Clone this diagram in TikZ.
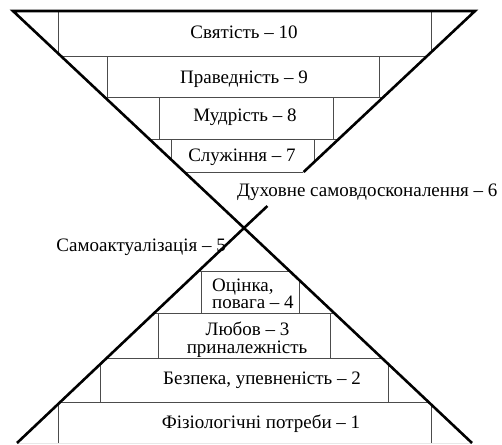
\documentclass[tikz,border=0pt]{standalone}
\usepackage{fontspec}
\setmainfont{Liberation Serif}
\usetikzlibrary{calc}
\begin{document}
\begin{tikzpicture}[x=1pt,y=-1pt,
  thickline/.style={line width=2.6pt, line join=miter},
  thinline/.style={line width=1pt, black!70},
  lbl/.style={font=\fontsize{19}{19}\selectfont, inner sep=0pt, anchor=base}]
\useasboundingbox (0,0) rectangle (502,444);
\coordinate (TL) at (13,11);
\coordinate (TR) at (475,11);
\coordinate (X) at (244,228);
\coordinate (BL) at (17,443);
\coordinate (BR) at (472,443);
\coordinate (RB) at ($(TR)!{(172-11)/217}!(X)$);
\coordinate (RS) at ($(TR)!{(206-11)/217}!(X)$);

% text partly hidden by the row below
\node[lbl] (t3b) at (247,353.5) {приналежність};
\fill[white] (0,357) rectangle (502,444);

% thin frame lines, clipped to the hourglass
\begin{scope}
\clip (TL) -- (TR) -- (X) -- cycle (X) -- (BR) -- (BL) -- cycle;
\foreach \y in {56,97,139,172,271,313,358,402,443}
  \draw[thinline] (0,\y) -- (502,\y);
% upper rows
\draw[thinline] (58,11) -- (58,56);   \draw[thinline] (431,11) -- (431,56);
\draw[thinline] (107,56) -- (107,97); \draw[thinline] (379,56) -- (379,97);
\draw[thinline] (159,97) -- (159,139);\draw[thinline] (333,97) -- (333,139);
\draw[thinline] (171,139) -- (171,172);\draw[thinline] (314,139) -- (314,172);
% lower rows
\draw[thinline] (201,271) -- (201,313);\draw[thinline] (299,271) -- (299,313);
\draw[thinline] (158,313) -- (158,358);\draw[thinline] (330,313) -- (330,358);
\draw[thinline] (100,358) -- (100,402);\draw[thinline] (388,358) -- (388,402);
\draw[thinline] (58,402) -- (58,443);  \draw[thinline] (431,402) -- (431,443);
\end{scope}

% thick outline
\draw[thickline] (X) -- (TL) -- (TR) -- (RB);
\draw[thickline] (X) -- (BR);
\draw[thickline] (RS) -- (X) -- (BL);

% labels
\node[lbl] (t10) at (244,38) {Святість – 10};
\node[lbl] (t9) at (244,83.5) {Праведність – 9};
\node[lbl] (t8) at (245,121) {Мудрість – 8};
\node[lbl] (t7) at (242,161) {Служіння – 7};
\node[lbl, anchor=base west] (t6) at (237,196) {Духовне самовдосконалення – 6};
\node[lbl, anchor=base east] (t5) at (226,251) {Самоактуалізація – 5};
\node[lbl, font=\fontsize{19}{16}\selectfont, align=left, anchor=west] (t4) at (212,293.5) {Оцінка,\\повага – 4};
\node[lbl] (t3a) at (247.5,335) {Любов – 3};
\node[lbl] (t2) at (262,384) {Безпека, упевненість – 2};
\node[lbl] (t1) at (261,428) {Фізіологічні потреби – 1};
\end{tikzpicture}
\end{document}
